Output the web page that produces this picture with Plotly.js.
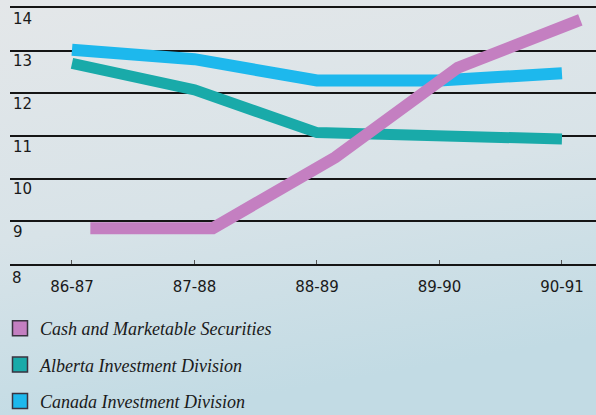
<!DOCTYPE html>
<html><head><meta charset="utf-8">
<script src="https://cdn.plot.ly/plotly-3.0.1.min.js"></script>
<style>html,body{margin:0;padding:0;background:#d5e2e7;}#chart{width:596px;height:415px;}</style>
</head><body><div id="chart"></div>
<script>
const years = ['86-87', '87-88', '88-89', '89-90', '90-91'];
const cashValues = [8.84, 8.84, 10.5, 12.6, 13.72];
const albertaValues = [12.7, 12.08, 11.08, 11.0, 10.93];
const canadaValues = [13.02, 12.8, 12.3, 12.3, 12.47];
const seriesNames = ['Cash and Marketable Securities', 'Alberta Investment Division', 'Canada Investment Division'];
const yTicks = [8, 9, 10, 11, 12, 13, 14];

const colors = {cash: '#c47fc1', alberta: '#19aaa9', canada: '#1db8ed'};

const W = 596, H = 415, L = 10, R = 0, T = 8, B = 151;
const pw = W - L - R, ph = H - T - B;

const bgSvg = "<svg xmlns='http://www.w3.org/2000/svg' width='596' height='415'><defs><linearGradient id='g' x1='0' y1='0' x2='0.25' y2='1'><stop offset='0' stop-color='#e4e7e9'/><stop offset='0.55' stop-color='#d8e3e8'/><stop offset='1' stop-color='#c2dbe4'/></linearGradient></defs><rect width='596' height='415' fill='url(#g)'/></svg>";

const lineTraces = [
  {x: years, y: canadaValues, mode: 'lines', line: {color: colors.canada, width: 12}, showlegend: false, hoverinfo: 'skip'},
  {x: years, y: albertaValues, mode: 'lines', line: {color: colors.alberta, width: 11}, showlegend: false, hoverinfo: 'skip'},
  {x: years, y: cashValues, xaxis: 'x2', mode: 'lines', line: {color: colors.cash, width: 12}, showlegend: false, hoverinfo: 'skip'}
];
const legendColors = [colors.cash, colors.alberta, colors.canada];
const legendTraces = seriesNames.map((n, i) => ({
  x: [null], y: [null], mode: 'markers', name: n, legendgroup: 'g' + i,
  marker: {symbol: 'square', size: 15, color: legendColors[i], line: {color: '#3a3340', width: 1.5}}
}));

const tickFont = {family: 'DejaVu Sans', size: 15, color: '#1a1a1a'};
const xr = [-0.506, 4.278];
const shift = 0.15;
const layout = {
  width: W, height: H,
  margin: {l: L, r: R, t: T, b: B, autoexpand: false},
  paper_bgcolor: '#d5e2e7',
  plot_bgcolor: 'rgba(0,0,0,0)',
  images: [{source: 'data:image/svg+xml;charset=utf-8,' + encodeURIComponent(bgSvg),
    xref: 'paper', yref: 'paper', x: -L / pw, y: 1 + T / ph, sizex: W / pw, sizey: H / ph,
    xanchor: 'left', yanchor: 'top', sizing: 'stretch', layer: 'below'}],
  xaxis: {type: 'category', range: xr, showgrid: false, zeroline: false,
    showline: true, mirror: true, linecolor: '#151515', linewidth: 2,
    ticks: 'inside', ticklen: 4, tickwidth: 1, tickcolor: '#555', ticklabelstandoff: 8,
    tickfont: tickFont, fixedrange: true},
  xaxis2: {type: 'category', overlaying: 'x', range: [xr[0] - shift, xr[1] - shift], visible: false, fixedrange: true},
  yaxis: {range: [yTicks[0], yTicks[yTicks.length - 1]], tickvals: yTicks, ticktext: yTicks.map(String),
    ticklabelposition: 'inside bottom', showgrid: true, gridcolor: '#151515', gridwidth: 2,
    zeroline: false, showline: false, ticks: '',
    tickfont: tickFont, fixedrange: true},
  annotations: [{text: String(yTicks[0]), xref: 'paper', yref: 'y', x: 0, y: yTicks[0],
    xanchor: 'left', yanchor: 'top', xshift: 0, yshift: -3, showarrow: false, font: tickFont}],
  showlegend: true,
  legend: {xref: 'container', yref: 'container', x: 0, y: 1 - 310 / H, xanchor: 'left', yanchor: 'top',
    bgcolor: 'rgba(0,0,0,0)', tracegroupgap: 10, itemsizing: 'trace',
    font: {family: 'Liberation Serif', size: 18, color: '#1a1a1a', style: 'italic'}},
  hovermode: false
};

Plotly.newPlot('chart', [...lineTraces, ...legendTraces], layout, {displayModeBar: false, staticPlot: true});
</script>
</body></html>
